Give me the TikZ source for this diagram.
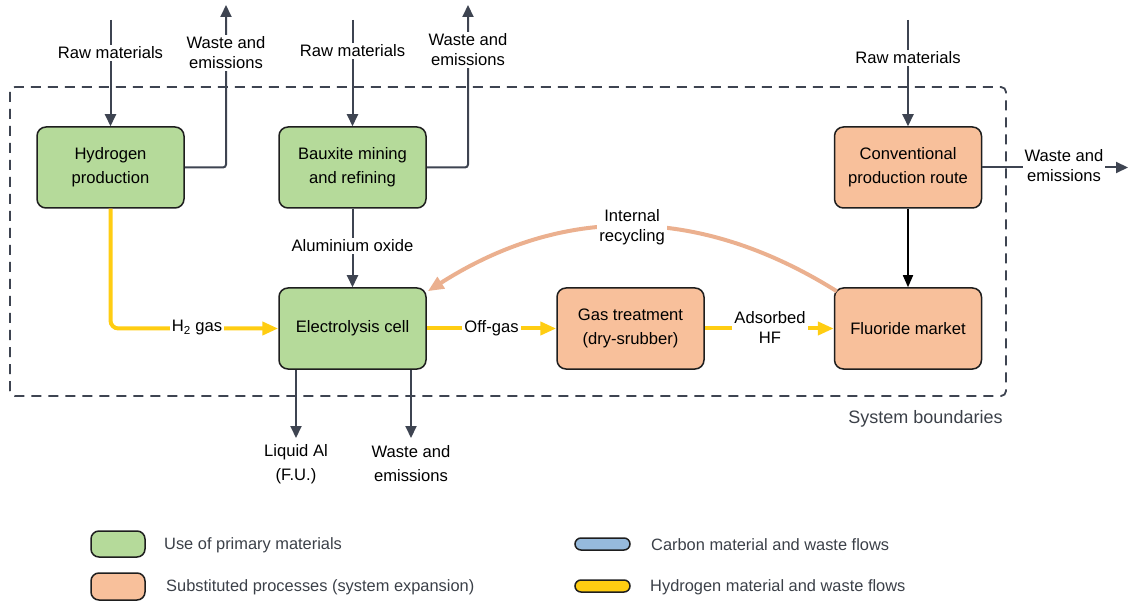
\documentclass[tikz,border=0pt]{standalone}
\usepackage{fontspec}
\setmainfont{Liberation Sans}
\usetikzlibrary{arrows.meta}
\definecolor{boxgreen}{HTML}{B5DA9A}
\definecolor{boxorange}{HTML}{F8C09B}
\definecolor{flowgray}{HTML}{3E4451}
\definecolor{hyellow}{HTML}{FFCD12}
\definecolor{recyc}{HTML}{EBB08F}
\definecolor{cblue}{HTML}{96BADC}
\definecolor{legtext}{HTML}{3B4048}
\definecolor{boxline}{HTML}{1E1E1E}

\begin{document}
\begin{tikzpicture}[x=1pt,y=-1pt,
  font=\fontsize{16.6}{24}\selectfont,
  proc/.style={draw=boxline, line width=1.5pt, rounded corners=9pt,
    minimum width=147pt, minimum height=81pt, align=center, inner sep=0pt},
  primbox/.style={proc, fill=boxgreen},
  subbox/.style={proc, fill=boxorange},
  flow/.style={draw=flowgray, line width=2pt, -{Triangle[length=12pt,width=11pt]}},
  hflow/.style={draw=hyellow, line width=4pt, -{Triangle[length=16pt,width=13pt]}},
  rflow/.style={draw=recyc, line width=4pt, -{Triangle[length=16pt,width=13pt]}},
  lbl/.style={fill=white, inner sep=2pt, align=center, font=\fontsize{16.6}{20}\selectfont},
  lblwide/.style={lbl, font=\fontsize{16.6}{24}\selectfont},
  legswatch/.style={draw=boxline, line width=1.5pt, rounded corners=8pt,
    minimum width=54pt, minimum height=26pt, inner sep=0pt},
  legpill/.style={draw=boxline, line width=1.5pt, rounded corners=6pt,
    minimum width=55pt, minimum height=12pt, inner sep=0pt},
  legtxt/.style={anchor=west, inner sep=0pt, text=legtext, font=\fontsize{16.4}{20}\selectfont},
]
\useasboundingbox (0,0) rectangle (1129,601);

% system boundary
\draw[flowgray, line width=1.8pt, dash pattern=on 10pt off 7pt, rounded corners=5pt]
  (10,87) rectangle (1006,396);
\node[inner sep=0pt, text=legtext, font=\fontsize{18}{22}\selectfont] (sb) at (925.5,419) {System boundaries};

% process boxes
\node[primbox] (h) at (110.5,167.5) {Hydrogen\\production};
\node[primbox] (b) at (352.5,167.5) {Bauxite mining\\and refining};
\node[subbox] (c) at (908,167.5) {Conventional\\production route};
\node[primbox] (e) at (352.5,328.5) {Electrolysis cell};
\node[subbox] (g) at (630.5,328.5) {Gas treatment\\(dry-srubber)};
\node[subbox] (f) at (908,328.5) {Fluoride market};

% free ends of the external flows
\coordinate (rh) at (110.5,20);
\coordinate (rb) at (352.5,20);
\coordinate (rc) at (908,20);
\coordinate (wh) at (226,5);
\coordinate (wb) at (468,5);
\coordinate (wc) at (1128,167.5);
\coordinate (la) at (296,438);
\coordinate (we) at (411,438);

% inputs and outputs
\draw[flow] (rh) -- (h.north);
\draw[flow] (rb) -- (b.north);
\draw[flow] (rc) -- (c.north);
\draw[flow, rounded corners=3pt] (h.east) -| (wh);
\draw[flow, rounded corners=3pt] (b.east) -| (wb);
\draw[flow] (c.east) -- (wc);
\draw[flow] (b.south) -- (e.north);
\draw[flow] (la |- e.south) -- (la);
\draw[flow] (we |- e.south) -- (we);
\draw[line width=1.5pt, -{Triangle[length=12pt,width=10pt]}] (c.south) -- (f.north);

% hydrogen flows
\draw[hflow, rounded corners=8pt] (h.south) |- (e.west);
\draw[hflow] (e.east) -- (g.west);
\draw[hflow] (g.east) -- (f.west);

% internal recycling
\draw[rflow] ([shift={(3,4)}]f.north west)
  .. controls (699,205) and (563,205) .. ([shift={(1,4)}]e.north east);

% flow labels
\node[lbl] (l1) at (110.5,53) {Raw materials};
\node[lbl] (l2) at (226,53) {Waste and\\emissions};
\node[lbl] (l3) at (352.5,51) {Raw materials};
\node[lbl] (l4) at (468,50) {Waste and\\emissions};
\node[lbl] (l5) at (908,58) {Raw materials};
\node[lbl] (l6) at (1064,165.5) {Waste and\\emissions};
\node[lbl] (l7) at (352.5,246) {Aluminium oxide};
\node[lbl] (l8) at (197,328) {H\textsubscript{2} gas};
\node[lbl] (l9) at (491.5,328) {Off-gas};
\node[lbl] (l10) at (770,327) {Adsorbed\\HF};
\node[lbl] (l11) at (632,227) {Internal\\recycling};
\node[lblwide] (l12) at (296,464) {Liquid Al\\(F.U.)};
\node[lblwide] (l13) at (411,464) {Waste and\\emissions};

% legend
\node[legswatch, fill=boxgreen] (k1) at (118,544) {};
\node[legswatch, fill=boxorange, minimum height=27pt] (k2) at (118,586.5) {};
\node[legpill, fill=cblue] (k3) at (602.5,544) {};
\node[legpill, fill=hyellow] (k4) at (602.5,586) {};
\node[legtxt] (t1) at (164,545) {Use of primary materials};
\node[legtxt] (t2) at (166,587) {Substituted processes (system expansion)};
\node[legtxt] (t3) at (651,545) {Carbon material and waste flows};
\node[legtxt] (t4) at (650,587) {Hydrogen material and waste flows};
\end{tikzpicture}
\end{document}
